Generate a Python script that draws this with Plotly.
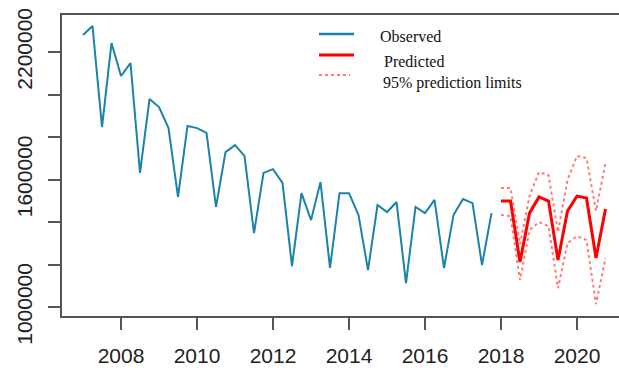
import plotly.graph_objects as go

# Quarterly series: observed 2007 Q1 - 2017 Q4, forecast 2018 Q1 - 2020 Q4
obs_start = 2007.0
pred_start = 2018.0
step = 0.25

observed = [
    2280000, 2322000, 1847000, 2242000,
    2087000, 2148000, 1631000, 1979000,
    1941000, 1842000, 1518000, 1852000,
    1842000, 1819000, 1471000, 1729000,
    1762000, 1711000, 1348000, 1631000,
    1649000, 1584000, 1193000, 1536000,
    1409000, 1588000, 1184000, 1536000,
    1536000, 1433000, 1174000, 1480000,
    1447000, 1494000, 1113000, 1471000,
    1442000, 1504000, 1184000, 1433000,
    1508000, 1489000, 1198000, 1442000,
]

predicted = [
    1499000, 1499000, 1212000, 1442000,
    1518000, 1499000, 1221000, 1452000,
    1522000, 1513000, 1231000, 1461000,
]
upper_95 = [
    1560000, 1560000, 1296000, 1522000,
    1635000, 1621000, 1353000, 1598000,
    1711000, 1701000, 1452000, 1678000,
]
lower_95 = [
    1433000, 1428000, 1127000, 1362000,
    1400000, 1381000, 1089000, 1301000,
    1334000, 1315000, 1014000, 1231000,
]

x_ticks = [2008, 2010, 2012, 2014, 2016, 2018, 2020]
y_ticks = [1000000, 1200000, 1400000, 1600000, 1800000, 2000000, 2200000]
y_labels = ["1000000", "", "", "1600000", "", "", "2200000"]

legend_names = ["Observed", "Predicted", "95% prediction limits"]

obs_t = [obs_start + i * step for i in range(len(observed))]
pred_t = [pred_start + i * step for i in range(len(predicted))]

BLUE = "#1a83a8"
RED = "#ff0000"
PINK = "#ff7b7b"
AXIS = "#555555"

fig = go.Figure()
fig.add_trace(go.Scatter(x=obs_t, y=observed, mode="lines",
                         line=dict(color=BLUE, width=2), showlegend=False))
fig.add_trace(go.Scatter(x=pred_t, y=upper_95, mode="lines",
                         line=dict(color=PINK, width=2, dash="dot"), showlegend=False))
fig.add_trace(go.Scatter(x=pred_t, y=lower_95, mode="lines",
                         line=dict(color=PINK, width=2, dash="dot"), showlegend=False))
fig.add_trace(go.Scatter(x=pred_t, y=predicted, mode="lines",
                         line=dict(color=RED, width=3), showlegend=False))

# Hand-drawn key in the upper right part of the plot area
L, R, T, B = 62, 619, 15, 316


def px_x(px):
    return (px - L) / (R - L)


def px_y(py):
    return (B - py) / (B - T)


key_styles = [
    dict(color=BLUE, width=2.5),
    dict(color=RED, width=3),
    dict(color=PINK, width=2, dash="dot"),
]
key_line_y = [34, 55, 75]
key_line_x = [(319, 354), (319, 354), (319, 350)]
key_text_y = [36, 61, 83]
key_text_x = [378, 382, 381]

for name, st, ly, (x0, x1), ty, tx in zip(legend_names, key_styles, key_line_y,
                                          key_line_x, key_text_y, key_text_x):
    fig.add_shape(type="line", xref="paper", yref="paper",
                  x0=px_x(x0), x1=px_x(x1), y0=px_y(ly), y1=px_y(ly), line=st)
    fig.add_annotation(text=name, xref="paper", yref="paper",
                       x=px_x(tx), y=px_y(ty), xanchor="left", yanchor="middle",
                       showarrow=False,
                       font=dict(family="Liberation Serif, Times New Roman, serif",
                                 size=16, color="#111111"))

fig.update_layout(
    width=619, height=372,
    margin=dict(l=L, r=619 - R, t=T, b=372 - B),
    paper_bgcolor="white", plot_bgcolor="white",
    showlegend=False,
    xaxis=dict(range=[2006.447, 2021.105], tickmode="array", tickvals=x_ticks,
               ticktext=[str(v) for v in x_ticks],
               ticks="outside", ticklen=12, tickwidth=1.5, tickcolor=AXIS,
               showline=True, linecolor=AXIS, linewidth=1.5, mirror=True,
               showgrid=False, zeroline=False, ticklabelstandoff=8,
               tickfont=dict(family="Liberation Sans, Arial, sans-serif", size=21,
                             color="#222222")),
    yaxis=dict(range=[958000, 2374000], tickmode="array", tickvals=y_ticks,
               ticktext=y_labels, tickangle=-90,
               ticks="outside", ticklen=12, tickwidth=1.5, tickcolor=AXIS,
               showline=True, linecolor=AXIS, linewidth=1.5, mirror=False,
               showgrid=False, zeroline=False, ticklabelstandoff=8,
               tickfont=dict(family="Liberation Sans, Arial, sans-serif", size=21,
                             color="#222222")),
)

fig.write_html("out.html")
